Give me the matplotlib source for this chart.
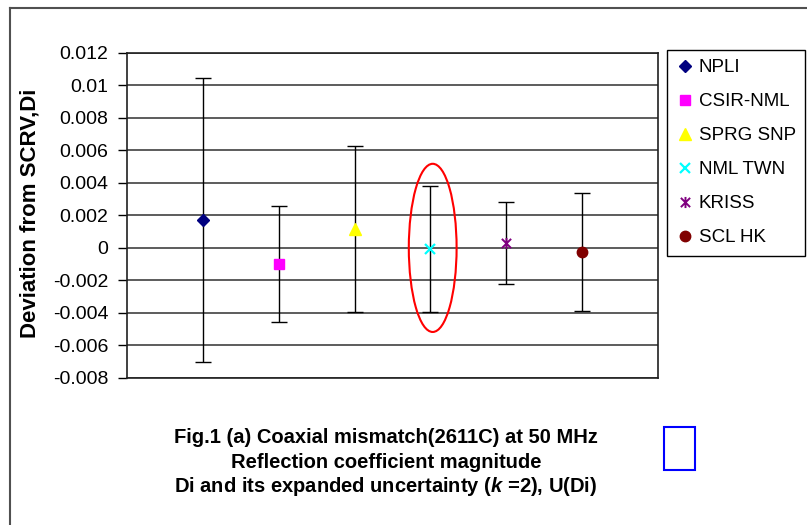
import matplotlib
matplotlib.use("Agg")
import matplotlib.pyplot as plt
from matplotlib.patches import Ellipse, Rectangle
from matplotlib.lines import Line2D
from matplotlib.path import Path
from matplotlib.ticker import FixedLocator, FixedFormatter

plt.rcParams['font.family'] = ['Liberation Sans', 'DejaVu Sans']
plt.rcParams['mathtext.fontset'] = 'custom'
plt.rcParams['mathtext.it'] = 'Liberation Sans:bold:italic'
plt.rcParams['mathtext.rm'] = 'Liberation Sans:bold'

# ---- data ----
labs = ["NPLI", "CSIR-NML", "SPRG SNP", "NML TWN", "KRISS", "SCL HK"]
di = [0.00172, -0.00097, 0.00117, -0.00008, 0.00031, -0.00027]
ud = [0.00872, 0.00357, 0.00510, 0.00387, 0.00250, 0.00362]
yticks = [-0.008, -0.006, -0.004, -0.002, 0, 0.002, 0.004, 0.006, 0.008, 0.01, 0.012]
ytick_labels = ["-0.008", "-0.006", "-0.004", "-0.002", "0", "0.002", "0.004",
                "0.006", "0.008", "0.01", "0.012"]
ylabel = "Deviation from SCRV,Di"
caption = ["Fig.1 (a) Coaxial mismatch(2611C) at 50 MHz",
           "Reflection coefficient magnitude",
           "Di and its expanded uncertainty ($\\mathit{k}$ =2), U(Di)"]

# ---- styles ----
star = Path([(-1, -1), (1, 1), (-1, 1), (1, -1), (0, -1.2), (0, 1.2)],
            [Path.MOVETO, Path.LINETO, Path.MOVETO, Path.LINETO, Path.MOVETO, Path.LINETO])
styles = [
    dict(marker='D', color='#000080', ms=6),
    dict(marker='s', color='#FF00FF', ms=7),
    dict(marker='^', color='#FFFF00', ms=8.5),
    dict(marker='x', color='#00FFFF', ms=7, mew=1.6),
    dict(marker=star, color='#800080', ms=8, mew=1.4),
    dict(marker='o', color='#800000', ms=7.5),
]

W, H = 807, 525
fig = plt.figure(figsize=(W / 100, H / 100), dpi=100)
ax = fig.add_axes([127 / W, 1 - 378 / H, (658 - 127) / W, (378 - 52.7) / H])

xs = list(range(1, len(labs) + 1))
for x, v, u, lab, st in zip(xs, di, ud, labs, styles):
    ax.errorbar([x], [v], yerr=[u], fmt='none', ecolor='black', elinewidth=1.0,
                capsize=6, capthick=1.0, zorder=3)
    ax.plot([x], [v], ls='none', label=lab, zorder=4, **st)

ax.set_xlim(0, 7)
ax.set_ylim(-0.008, 0.012)
ax.yaxis.set_major_locator(FixedLocator(yticks))
ax.yaxis.set_major_formatter(FixedFormatter(ytick_labels))
ax.set_xticks([])
ax.tick_params(axis='y', direction='out', length=6.5, width=1, pad=7, labelsize=14)
for s in ax.spines.values():
    s.set_linewidth(1.2)
    s.set_color('#202020')
ax.grid(axis='y', color='#303030', lw=1.1)
ax.set_axisbelow(True)
ax.set_ylabel(ylabel, fontsize=16, fontweight='bold')
ax.yaxis.set_label_coords(-0.162, 0.505)

ax.add_patch(Ellipse((4.03, 0.0), 0.63, 0.01034, fill=False, edgecolor='#FF0000',
                     lw=1.5, zorder=5))

leg = ax.legend(loc='upper left', bbox_to_anchor=(667 / W, 1 - 50 / H),
                bbox_transform=fig.transFigure, fontsize=13.5, frameon=True,
                fancybox=False, edgecolor='black', framealpha=1,
                handlelength=0.9, handletextpad=0.3, labelspacing=0.9,
                borderpad=0.5, borderaxespad=0)
leg.get_frame().set_linewidth(1.0)

for i, line in enumerate(caption):
    fig.text(386 / W, 1 - (437.5 + 24.5 * i) / H, line, ha='center', va='center',
             fontsize=14.5, fontweight='bold')

fig.add_artist(Rectangle((664 / W, 1 - 470 / H), 31 / W, 43 / H, transform=fig.transFigure,
                         fill=False, edgecolor='#0000FF', lw=1.5))
fig.add_artist(Line2D([10 / W, 10 / W], [0, 1 - 8 / H], transform=fig.transFigure,
                      color='#505050', lw=1.5))
fig.add_artist(Line2D([10 / W, 1], [1 - 8 / H, 1 - 8 / H], transform=fig.transFigure,
                      color='#505050', lw=1.5))

fig.savefig("out.png", dpi=100)
